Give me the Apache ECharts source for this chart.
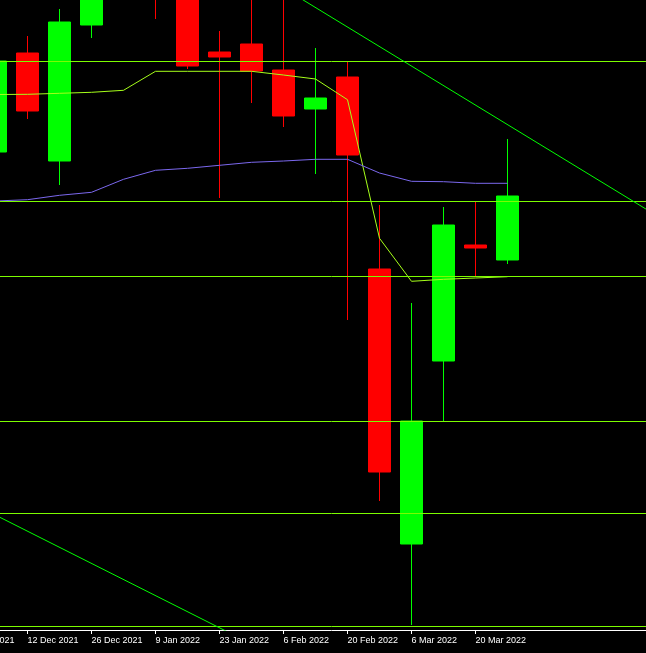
<!DOCTYPE html>
<html>
<head>
<meta charset="utf-8">
<script src="https://cdn.jsdelivr.net/npm/echarts@6/dist/echarts.min.js"></script>
<style>
html,body{margin:0;padding:0;background:#000;overflow:hidden;width:646px;height:653px;position:relative;}
#chart{position:absolute;left:-53px;top:0;width:769px;height:653px;}
</style>
</head>
<body>
<div id="chart"></div>
<script>
// Weekly categories (only bars up to index 17 exist; the rest is the empty chart shift)
var categories = ['28 Nov 2021','5 Dec 2021','12 Dec 2021','19 Dec 2021','26 Dec 2021','2 Jan 2022','9 Jan 2022','16 Jan 2022','23 Jan 2022','30 Jan 2022','6 Feb 2022','13 Feb 2022','20 Feb 2022','27 Feb 2022','6 Mar 2022','13 Mar 2022','20 Mar 2022','27 Mar 2022','3 Apr 2022','10 Apr 2022','17 Apr 2022','24 Apr 2022','1 May 2022','8 May 2022'];
var lastBarIndex = 17;

// OHLC as [open, close, low, high]
var candles = [
  '-',
  [1.2478, 1.2569, 1.2465, 1.2580],
  [1.2577, 1.2519, 1.2511, 1.2594],
  [1.2469, 1.2608, 1.2445, 1.2621],
  [1.2605, 1.2655, 1.2592, 1.2670],
  [1.2665, 1.2710, 1.2655, 1.2725],
  [1.2680, 1.2640, 1.2611, 1.2690],
  [1.2650, 1.2564, 1.2561, 1.2665],
  [1.2578, 1.2573, 1.2432, 1.2599],
  [1.2586, 1.2559, 1.2527, 1.2640],
  [1.2560, 1.2514, 1.2503, 1.2635],
  [1.2521, 1.2532, 1.2456, 1.2582],
  [1.2553, 1.2475, 1.2310, 1.2568],
  [1.2361, 1.2158, 1.2129, 1.2425],
  [1.2086, 1.2209, 1.2005, 1.2327],
  [1.2269, 1.2405, 1.2209, 1.2423],
  [1.2385, 1.2382, 1.2354, 1.2428],
  [1.2370, 1.2434, 1.2366, 1.2491]
];

var fastMA = ['-', 1.25355, 1.25357, 1.25367, 1.25377, 1.25397, 1.25587, 1.25587, 1.25587, 1.25587, 1.2555, 1.2551, 1.25303, 1.23917, 1.23487, 1.23507, 1.2352, 1.23533];
var slowMA = ['-', 1.2429, 1.24303, 1.24347, 1.24377, 1.24507, 1.24597, 1.24617, 1.24647, 1.24677, 1.2469, 1.24707, 1.24707, 1.2457, 1.24487, 1.24483, 1.24467, 1.24467];

var levels = [1.25687, 1.24287, 1.2354, 1.22087, 1.21167, 1.2004];

var trendA = [['6 Feb 2022', 1.2642], ['1 May 2022', 1.24078]];
var trendB = [['28 Nov 2021', 1.2131], ['30 Jan 2022', 1.19861]];

var chart = echarts.init(document.getElementById('chart'), null, {renderer: 'canvas'});

function showIdx(index) { return index % 2 === 0 && index <= lastBarIndex; }

chart.setOption({
  backgroundColor: '#000000',
  animation: false,
  grid: {left: 0.5, right: 0.5, top: 0, bottom: 23, containLabel: false},
  xAxis: {
    type: 'category',
    data: categories,
    boundaryGap: true,
    axisLine: {show: true, lineStyle: {color: '#ffffff', width: 1}},
    axisTick: {show: true, alignWithLabel: true, length: 4, interval: showIdx, lineStyle: {color: '#ffffff'}},
    axisLabel: {show: true, interval: showIdx, color: '#ffffff', fontSize: 9, fontFamily: "'Liberation Sans', Arial, sans-serif", align: 'left', margin: 6},
    splitLine: {show: false}
  },
  yAxis: {
    type: 'value',
    min: 1.2,
    max: 1.263,
    show: false,
    splitLine: {show: false}
  },
  series: [
    {
      type: 'candlestick',
      data: candles,
      barWidth: 22,
      z: 2,
      itemStyle: {color: '#00ff00', color0: '#ff0000', borderColor: '#00ff00', borderColor0: '#ff0000', borderWidth: 1},
      markLine: {
        silent: true,
        precision: 5,
        symbol: ['none', 'none'],
        label: {show: false},
        lineStyle: {color: '#7cfc00', width: 1, type: 'solid'},
        data: levels.map(function (v) { return {yAxis: v}; })
      }
    },
    {
      type: 'line', data: fastMA, symbol: 'none', z: 4,
      lineStyle: {color: '#a6ff1a', width: 1}
    },
    {
      type: 'line', data: slowMA, symbol: 'none', z: 4,
      lineStyle: {color: '#7b68ee', width: 1}
    },
    {
      type: 'line', data: trendA, symbol: 'none', z: 5, clip: true,
      lineStyle: {color: '#00ff00', width: 1}
    },
    {
      type: 'line', data: trendB, symbol: 'none', z: 5, clip: true,
      lineStyle: {color: '#00ff00', width: 1}
    }
  ]
});
</script>
</body>
</html>
